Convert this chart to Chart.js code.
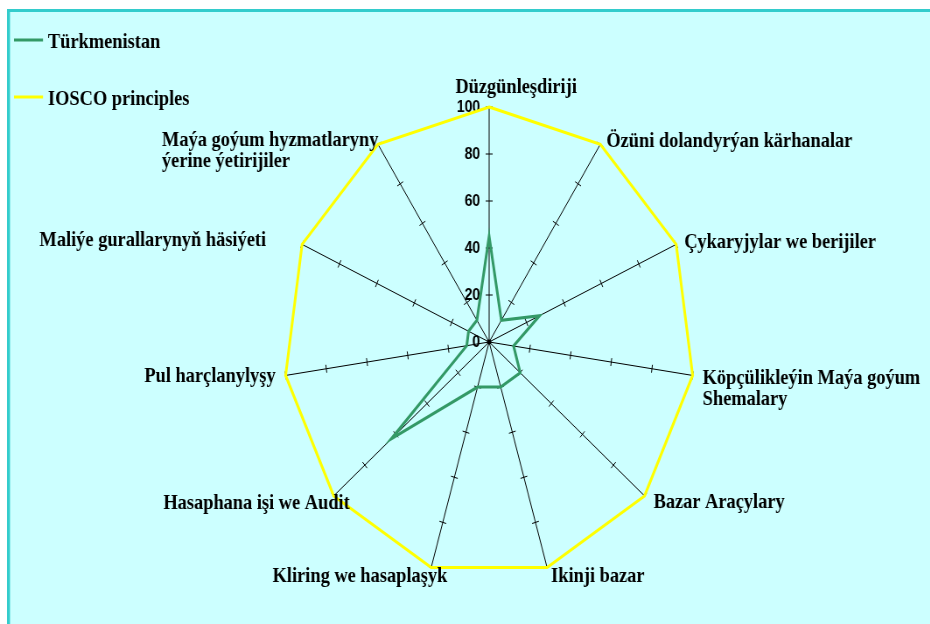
<!DOCTYPE html>
<html>
<head>
<meta charset="utf-8">
<script src="https://cdn.jsdelivr.net/npm/chart.js@4.4.1/dist/chart.umd.min.js"></script>
<style>
  html, body { margin: 0; padding: 0; background: #ffffff; overflow: hidden; }
  #page { position: relative; width: 930px; height: 624px; overflow: hidden; }
  #c { position: absolute; left: 0; top: 0; transform: scaleX(0.875); transform-origin: 0 0; }
</style>
</head>
<body>
<div id="page">
  <canvas id="c" width="1064" height="624"></canvas>
</div>
<script>
// ---- data ----
const categories = [
  'Düzgünleşdiriji',
  'Özüni dolandyrýan kärhanalar',
  'Çykaryjylar we berijiler',
  ['Köpçülikleýin Maýa goýum', 'Shemalary'],
  'Bazar Araçylary',
  'Ikinji bazar',
  'Kliring we hasaplaşyk',
  'Hasaphana işi we Audit',
  'Pul harçlanylyşy',
  'Maliýe gurallarynyň häsiýeti',
  ['Maýa goýum hyzmatlaryny', 'ýerine ýetirijiler']
];
const seriesNames = ['Türkmenistan', 'IOSCO principles'];
const turkmenistanValues = [45, 11, 27, 12, 20, 20, 20, 63, 11, 11, 11];
const ioscoValues = [100, 100, 100, 100, 100, 100, 100, 100, 100, 100, 100];
const tickValues = [0, 20, 40, 60, 80, 100];

// ---- style ----
const SX = 0.875; // horizontal squeeze of the picture
const LABEL_FONT = 'bold 21px "Liberation Serif", "Times New Roman", serif';
const TICK_FONT = 'bold 16px "Liberation Sans", Arial, sans-serif';
// label placement relative to each axis end (dx in screen px, dy in px)
const labelPlacement = [
  { align: 'center', dx: 27,   dy: -14 },
  { align: 'left',   dx: 6,    dy: 3 },
  { align: 'left',   dx: 8,    dy: 4 },
  { align: 'left',   dx: 10,   dy: 9 },
  { align: 'left',   dx: 9,    dy: 12 },
  { align: 'left',   dx: 4,    dy: 15 },
  { align: 'right',  dx: 16,   dy: 15 },
  { align: 'right',  dx: 16,   dy: 13 },
  { align: 'right',  dx: -10,  dy: 7 },
  { align: 'right',  dx: -36,  dy: 2 },
  { align: 'left',   dx: -216, dy: 2 }
];

const overlay = {
  id: 'overlay',
  beforeDraw(chart) {
    const ctx = chart.ctx;
    ctx.save();
    ctx.fillStyle = '#ffffff';
    ctx.fillRect(0, 0, chart.width, chart.height);
    ctx.fillStyle = '#33CCCC';
    ctx.fillRect(7 / SX, 9, chart.width, chart.height);
    ctx.fillStyle = '#CCFFFF';
    ctx.fillRect(10 / SX, 12, chart.width, chart.height);
    ctx.restore();
  },
  beforeDatasetsDraw(chart) {
    const s = chart.scales.r, ctx = chart.ctx;
    const n = chart.data.labels.length;
    ctx.save();
    ctx.strokeStyle = '#000000';
    ctx.lineWidth = 1;
    for (let i = 0; i < n; i++) {
      for (const v of tickValues) {
        if (v === 0) continue;
        const p = s.getPointPositionForValue(i, v);
        const hx = -Math.sin(p.angle) * 4, hy = Math.cos(p.angle) * 4;
        ctx.beginPath();
        ctx.moveTo(p.x - hx, p.y - hy);
        ctx.lineTo(p.x + hx, p.y + hy);
        ctx.stroke();
      }
    }
    ctx.fillStyle = '#000000';
    ctx.font = TICK_FONT;
    ctx.textAlign = 'right';
    ctx.textBaseline = 'middle';
    for (const v of tickValues) {
      const p = s.getPointPositionForValue(0, v);
      ctx.fillText(String(v), p.x - 9 / SX, p.y + 1);
    }
    ctx.beginPath();
    ctx.arc(s.xCenter, s.yCenter, 2.5, 0, Math.PI * 2);
    ctx.fill();
    ctx.restore();
  },
  afterDraw(chart) {
    const s = chart.scales.r, ctx = chart.ctx;
    ctx.save();
    ctx.fillStyle = '#000000';
    ctx.font = LABEL_FONT;
    ctx.textBaseline = 'alphabetic';
    chart.data.labels.forEach((lab, i) => {
      const p = s.getPointPosition(i, s.drawingArea);
      const pl = labelPlacement[i];
      const lines = Array.isArray(lab) ? lab : [lab];
      ctx.textAlign = pl.align;
      lines.forEach((t, k) => {
        ctx.fillText(t, p.x + pl.dx / SX, p.y + pl.dy + k * 21);
      });
    });
    // legend
    const legendY = [40, 97];
    chart.data.datasets.forEach((ds, k) => {
      ctx.strokeStyle = ds.borderColor;
      ctx.lineWidth = 3;
      ctx.beginPath();
      ctx.moveTo(14 / SX, legendY[k]);
      ctx.lineTo(43 / SX, legendY[k]);
      ctx.stroke();
      ctx.textAlign = 'left';
      ctx.fillText(ds.label, 48 / SX, legendY[k] + 8);
    });
    ctx.restore();
  }
};

new Chart(document.getElementById('c'), {
  type: 'radar',
  data: {
    labels: categories,
    datasets: [
      { label: seriesNames[0], data: turkmenistanValues, borderColor: '#339966', borderWidth: 3,
        fill: false, pointRadius: 0, borderJoinStyle: 'miter' },
      { label: seriesNames[1], data: ioscoValues, borderColor: '#FFFF00', borderWidth: 3,
        fill: false, pointRadius: 0, borderJoinStyle: 'miter' }
    ]
  },
  options: {
    responsive: false,
    animation: false,
    layout: { padding: { left: 324, right: 270, top: 107, bottom: 47 } },
    plugins: { legend: { display: false }, tooltip: { enabled: false } },
    elements: { line: { tension: 0 } },
    scales: {
      r: {
        min: 0, max: 100,
        ticks: { display: false, stepSize: 20 },
        grid: { display: false },
        angleLines: { display: true, color: '#000000', lineWidth: 1 },
        pointLabels: { display: false }
      }
    }
  },
  plugins: [overlay]
});
</script>
</body>
</html>
